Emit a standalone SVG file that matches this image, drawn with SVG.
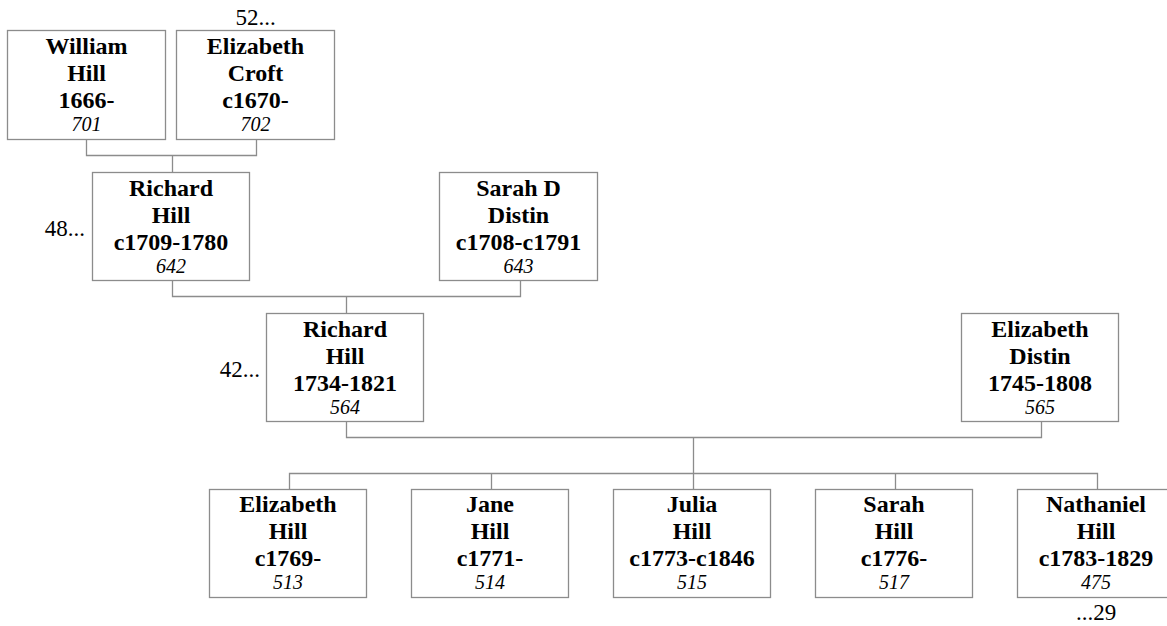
<svg xmlns="http://www.w3.org/2000/svg" width="1167" height="626" viewBox="0 0 1167 626">
<style>
.box{fill:#fff;stroke:#8c8c8c;stroke-width:1.3}
.n{font-family:"Liberation Serif","Times New Roman",serif;font-weight:bold;font-size:24px;text-anchor:middle;fill:#000}
.id{font-family:"Liberation Serif","Times New Roman",serif;font-style:italic;font-size:20px;text-anchor:middle;fill:#000}
.more{font-family:"Liberation Serif","Times New Roman",serif;font-size:23px;fill:#000}
.conn{fill:none;stroke:#8c8c8c;stroke-width:1.3}
</style>
<rect width="1167" height="626" fill="#fff"/>
<g id="connectors" class="conn">
<path d="M86.5 139 V155.5 H256.5 V139 M172.5 155.5 V172"/>
<path d="M172.5 281 V296.5 H520.5 V281 M346.5 296.5 V313"/>
<path d="M346.5 422 V437.5 H1041.5 V422 M693.5 437.5 V473.5"/>
<path d="M289.5 489 V473.5 H1097.5 V489 M491.5 473.5 V489 M693.5 473.5 V489 M895.5 473.5 V489"/>
</g>
<g id="n701"><rect class="box" x="7.5" y="30.5" width="158" height="109"/>
<text class="n" x="86.5"><tspan x="86.5" y="54">William</tspan><tspan x="86.5" y="81">Hill</tspan><tspan x="86.5" y="108">1666-</tspan></text><text class="id" x="86.5" y="131">701</text></g>
<g id="n702"><rect class="box" x="176.5" y="30.5" width="158" height="109"/>
<text class="n"><tspan x="255.5" y="54">Elizabeth</tspan><tspan x="255.5" y="81">Croft</tspan><tspan x="255.5" y="108">c1670-</tspan></text><text class="id" x="255.5" y="131">702</text>
<text class="more" x="255.5" y="25" text-anchor="middle">52...</text></g>
<g id="n642"><rect class="box" x="92.5" y="172.5" width="157" height="108"/>
<text class="n"><tspan x="171" y="196">Richard</tspan><tspan x="171" y="223">Hill</tspan><tspan x="171" y="250">c1709-1780</tspan></text><text class="id" x="171" y="273">642</text>
<text class="more" x="85" y="236" text-anchor="end">48...</text></g>
<g id="n643"><rect class="box" x="439.5" y="172.5" width="158" height="108"/>
<text class="n"><tspan x="518.5" y="196">Sarah D</tspan><tspan x="518.5" y="223">Distin</tspan><tspan x="518.5" y="250">c1708-c1791</tspan></text><text class="id" x="518.5" y="273">643</text></g>
<g id="n564"><rect class="box" x="266.5" y="313.5" width="157" height="108"/>
<text class="n"><tspan x="345" y="337">Richard</tspan><tspan x="345" y="364">Hill</tspan><tspan x="345" y="391">1734-1821</tspan></text><text class="id" x="345" y="414">564</text>
<text class="more" x="260" y="377" text-anchor="end">42...</text></g>
<g id="n565"><rect class="box" x="961.5" y="313.5" width="157" height="108"/>
<text class="n"><tspan x="1040" y="337">Elizabeth</tspan><tspan x="1040" y="364">Distin</tspan><tspan x="1040" y="391">1745-1808</tspan></text><text class="id" x="1040" y="414">565</text></g>
<g id="n513"><rect class="box" x="209.5" y="489.5" width="157" height="108"/>
<text class="n"><tspan x="288" y="512">Elizabeth</tspan><tspan x="288" y="539">Hill</tspan><tspan x="288" y="566">c1769-</tspan></text><text class="id" x="288" y="589">513</text></g>
<g id="n514"><rect class="box" x="411.5" y="489.5" width="157" height="108"/>
<text class="n"><tspan x="490" y="512">Jane</tspan><tspan x="490" y="539">Hill</tspan><tspan x="490" y="566">c1771-</tspan></text><text class="id" x="490" y="589">514</text></g>
<g id="n515"><rect class="box" x="613.5" y="489.5" width="157" height="108"/>
<text class="n"><tspan x="692" y="512">Julia</tspan><tspan x="692" y="539">Hill</tspan><tspan x="692" y="566">c1773-c1846</tspan></text><text class="id" x="692" y="589">515</text></g>
<g id="n517"><rect class="box" x="815.5" y="489.5" width="157" height="108"/>
<text class="n"><tspan x="894" y="512">Sarah</tspan><tspan x="894" y="539">Hill</tspan><tspan x="894" y="566">c1776-</tspan></text><text class="id" x="894" y="589">517</text></g>
<g id="n475"><rect class="box" x="1017.5" y="489.5" width="157" height="108"/>
<text class="n"><tspan x="1096" y="512">Nathaniel</tspan><tspan x="1096" y="539">Hill</tspan><tspan x="1096" y="566">c1783-1829</tspan></text><text class="id" x="1096" y="589">475</text>
<text class="more" x="1096" y="620" text-anchor="middle">...29</text></g>
</svg>
